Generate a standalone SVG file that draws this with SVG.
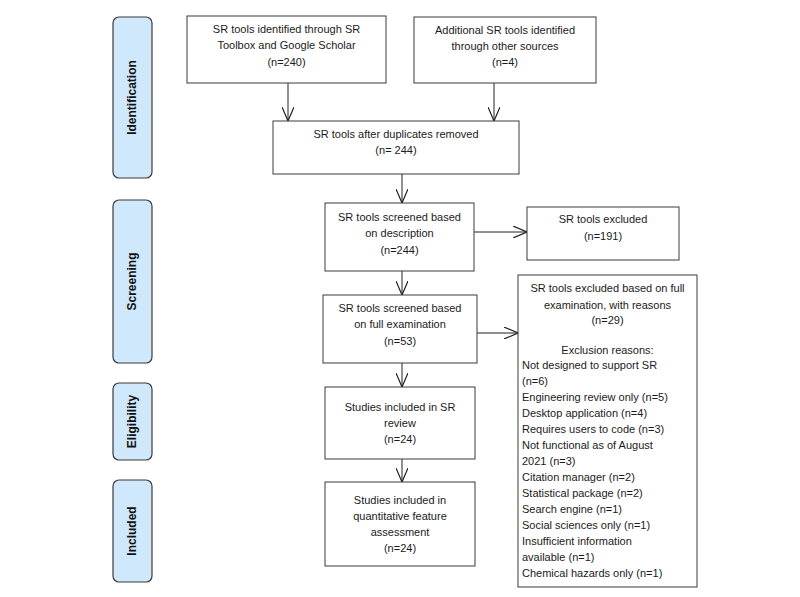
<svg xmlns="http://www.w3.org/2000/svg" width="800" height="597" viewBox="0 0 800 597">
<style>
.box{fill:#fff;stroke:#3a3a3a;stroke-width:1}
.pill{fill:#cfe8fc;stroke:#3a3a3a;stroke-width:1.2}
.t{font-family:"Liberation Sans",Arial,sans-serif;font-size:11px;fill:#1a1a1a;text-anchor:middle}
.l{text-anchor:start}
.side{font-family:"Liberation Sans",Arial,sans-serif;font-size:12px;font-weight:bold;fill:#111;text-anchor:middle;dominant-baseline:central}
.c{fill:none;stroke:#222;stroke-width:1;marker-end:url(#arr)}
</style>
<defs>
<marker id="arr" viewBox="0 0 14 12" refX="14" refY="6" markerWidth="14" markerHeight="12" markerUnits="userSpaceOnUse" orient="auto">
<path d="M0,0 L14,6 L0,12" fill="none" stroke="#222" stroke-width="1.2"/>
</marker>
</defs>
<rect width="800" height="597" fill="#fff"/>
<g id="stage-identification"><rect class="pill" x="113" y="17" width="39" height="161" rx="6"/><text class="side" transform="translate(132,97.5) rotate(-90)">Identification</text></g>
<g id="stage-screening"><rect class="pill" x="113" y="200" width="39" height="163" rx="6"/><text class="side" transform="translate(132,281.5) rotate(-90)">Screening</text></g>
<g id="stage-eligibility"><rect class="pill" x="113" y="383" width="39" height="77" rx="6"/><text class="side" transform="translate(132,421.5) rotate(-90)">Eligibility</text></g>
<g id="stage-included"><rect class="pill" x="113" y="480" width="39" height="102" rx="6"/><text class="side" transform="translate(132,531) rotate(-90)">Included</text></g>

<g id="connectors">
<line class="c" x1="288" y1="83" x2="288" y2="121"/>
<line class="c" x1="494" y1="83" x2="494" y2="121"/>
<line class="c" x1="402" y1="174" x2="402" y2="203"/>
<line class="c" x1="474" y1="232" x2="527" y2="232"/>
<line class="c" x1="402" y1="271" x2="402" y2="295"/>
<line class="c" x1="477" y1="333" x2="518" y2="333"/>
<line class="c" x1="402" y1="363" x2="402" y2="387"/>
<line class="c" x1="402" y1="459" x2="402" y2="482"/>
</g>

<g id="n-toolbox"><rect class="box" x="187" y="16" width="199" height="67"/>
<text class="t" x="286.5" y="33">SR tools identified through SR</text>
<text class="t" x="286.5" y="49">Toolbox and Google Scholar</text>
<text class="t" x="286.5" y="66">(n=240)</text></g>

<g id="n-other"><rect class="box" x="414" y="17" width="182" height="66"/>
<text class="t" x="505" y="34">Additional SR tools identified</text>
<text class="t" x="505" y="50">through other sources</text>
<text class="t" x="505" y="66">(n=4)</text></g>

<g id="n-dedup"><rect class="box" x="273" y="121" width="246" height="53"/>
<text class="t" x="396" y="138">SR tools after duplicates removed</text>
<text class="t" x="396" y="154">(n= 244)</text></g>

<g id="n-desc"><rect class="box" x="325" y="203" width="149" height="68"/>
<text class="t" x="399.5" y="221">SR tools screened based</text>
<text class="t" x="399.5" y="237">on description</text>
<text class="t" x="399.5" y="254">(n=244)</text></g>

<g id="n-excl"><rect class="box" x="527" y="207" width="152" height="53"/>
<text class="t" x="603" y="223">SR tools excluded</text>
<text class="t" x="603" y="240">(n=191)</text></g>

<g id="n-full"><rect class="box" x="323" y="295" width="154" height="68"/>
<text class="t" x="400" y="312">SR tools screened based</text>
<text class="t" x="400" y="328">on full examination</text>
<text class="t" x="400" y="345">(n=53)</text></g>

<g id="n-reasons"><rect class="box" x="518" y="275" width="179" height="312"/>
<text class="t" x="607.5" y="292">SR tools excluded based on full</text>
<text class="t" x="607.5" y="309">examination, with reasons</text>
<text class="t" x="607.5" y="324">(n=29)</text>
<text class="t" x="607.5" y="354">Exclusion reasons:</text>
<text class="t l" x="522" y="369">Not designed to support SR</text>
<text class="t l" x="522" y="385">(n=6)</text>
<text class="t l" x="522" y="401">Engineering review only (n=5)</text>
<text class="t l" x="522" y="417">Desktop application (n=4)</text>
<text class="t l" x="522" y="433">Requires users to code (n=3)</text>
<text class="t l" x="522" y="449">Not functional as of August</text>
<text class="t l" x="522" y="465">2021 (n=3)</text>
<text class="t l" x="522" y="481">Citation manager (n=2)</text>
<text class="t l" x="522" y="497">Statistical package (n=2)</text>
<text class="t l" x="522" y="513">Search engine (n=1)</text>
<text class="t l" x="522" y="529">Social sciences only (n=1)</text>
<text class="t l" x="522" y="545">Insufficient information</text>
<text class="t l" x="522" y="561">available (n=1)</text>
<text class="t l" x="522" y="577">Chemical hazards only (n=1)</text></g>

<g id="n-review"><rect class="box" x="325" y="387" width="150" height="72"/>
<text class="t" x="400" y="411">Studies included in SR</text>
<text class="t" x="400" y="427">review</text>
<text class="t" x="400" y="443">(n=24)</text></g>

<g id="n-quant"><rect class="box" x="325" y="482" width="150" height="84"/>
<text class="t" x="400" y="504">Studies included in</text>
<text class="t" x="400" y="520">quantitative feature</text>
<text class="t" x="400" y="536">assessment</text>
<text class="t" x="400" y="552">(n=24)</text></g>
</svg>
